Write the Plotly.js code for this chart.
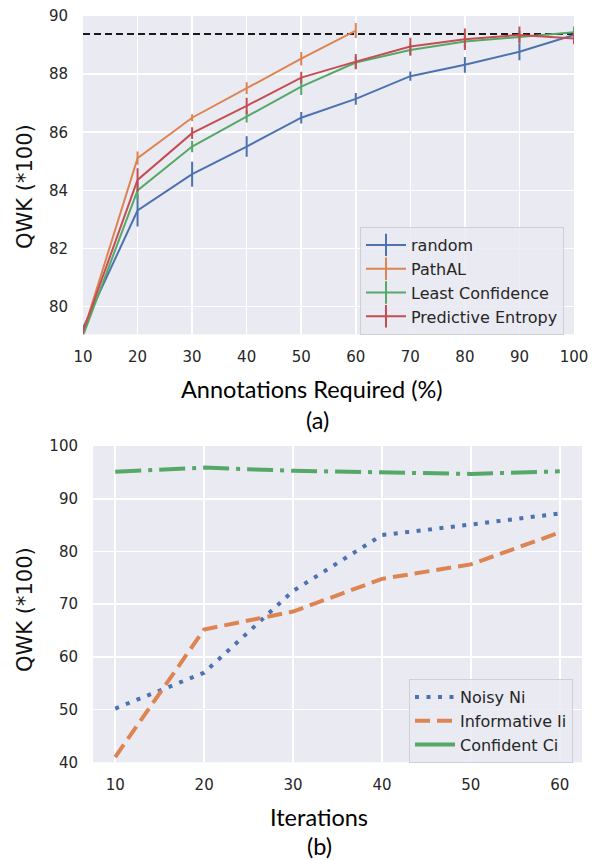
<!DOCTYPE html>
<html><head><meta charset="utf-8">
<script src="https://cdn.plot.ly/plotly-3.0.1.min.js"></script>
<style>html,body{margin:0;padding:0;background:#fff}#chart{width:592px;height:860px}</style>
</head><body><div id="chart"></div>
<script>
// ---- panel (a) data ----
const annot = [10, 20, 30, 40, 50, 60, 70, 80, 90, 100];
const randomQWK = [79.26, 83.31, 84.56, 85.51, 86.50, 87.15, 87.93, 88.32, 88.77, 89.35];
const randomErr = [0.10, 0.55, 0.43, 0.35, 0.20, 0.20, 0.16, 0.27, 0.29, 0.10];
const annotPath = [10, 20, 30, 40, 50, 60];
const pathalQWK = [79.10, 85.11, 86.50, 87.52, 88.53, 89.50];
const pathalErr = [0.10, 0.23, 0.12, 0.20, 0.23, 0.26];
const lcQWK = [79.00, 84.00, 85.51, 86.54, 87.57, 88.40, 88.83, 89.12, 89.29, 89.44];
const lcErr = [0.10, 0.30, 0.20, 0.20, 0.29, 0.20, 0.20, 0.22, 0.20, 0.20];
const peQWK = [79.15, 84.36, 85.97, 86.91, 87.88, 88.43, 88.95, 89.20, 89.35, 89.23];
const peErr = [0.10, 0.40, 0.20, 0.28, 0.20, 0.26, 0.30, 0.37, 0.29, 0.20];
const fullX = [10, 100];
const fullQWK = [89.38, 89.38];
const namesA = ['random', 'PathAL', 'Least Confidence', 'Predictive Entropy'];

// ---- panel (b) data ----
const iters = [10, 20, 30, 40, 50, 60];
const noisyNi = [50.2, 57.0, 72.5, 83.1, 85.1, 87.2];
const informativeIi = [41.0, 65.2, 68.6, 74.8, 77.55, 83.6];
const confidentCi = [95.1, 95.9, 95.3, 94.95, 94.7, 95.2];
const namesB = ['Noisy Ni', 'Informative Ii', 'Confident Ci'];

const C = ['#4C72B0', '#DD8452', '#55A868', '#C44E52'];
const DV = '"DejaVu Sans", Verdana, "Bitstream Vera Sans", sans-serif';
const tickFont = {family: DV, size: 15, color: '#262626'};

function errTrace(x, y, e, col) {
  return {x: x, y: y, type: 'scatter', mode: 'lines', xaxis: 'x', yaxis: 'y',
    line: {color: col, width: 2}, showlegend: false, hoverinfo: 'skip',
    error_y: {type: 'data', array: e, visible: true, color: col, thickness: 2, width: 0}};
}
function legA(name, col, i) {
  return {x: [null], y: [null], type: 'scatter', mode: 'lines+markers', name: name,
    xaxis: 'x', yaxis: 'y', legend: 'legend',
    line: {color: col, width: 2},
    marker: {symbol: 'line-ns-open', size: 17, color: col, line: {color: col, width: 2}}};
}
function legB(name, col, dash, i) {
  return {x: [null], y: [null], type: 'scatter', mode: 'lines', name: name,
    xaxis: 'x2', yaxis: 'y2', legend: 'legend2',
    line: {color: col, width: 4, dash: dash}};
}

const data = [
  {x: fullX, y: fullQWK, type: 'scatter', mode: 'lines', xaxis: 'x', yaxis: 'y',
   line: {color: '#1a1a1a', width: 1.8, dash: '7px,4px'}, showlegend: false},
  errTrace(annot, randomQWK, randomErr, C[0]),
  errTrace(annotPath, pathalQWK, pathalErr, C[1]),
  errTrace(annot, lcQWK, lcErr, C[2]),
  errTrace(annot, peQWK, peErr, C[3]),
  legA(namesA[0], C[0], 0), legA(namesA[1], C[1], 1), legA(namesA[2], C[2], 2), legA(namesA[3], C[3], 3),
  {x: iters, y: noisyNi, type: 'scatter', mode: 'lines', xaxis: 'x2', yaxis: 'y2',
   line: {color: C[0], width: 4, dash: '4px,7.5px'}, showlegend: false},
  {x: iters, y: informativeIi, type: 'scatter', mode: 'lines', xaxis: 'x2', yaxis: 'y2',
   line: {color: C[1], width: 4, dash: '15px,7px'}, showlegend: false},
  {x: iters, y: confidentCi, type: 'scatter', mode: 'lines', xaxis: 'x2', yaxis: 'y2',
   line: {color: C[2], width: 4, dash: '26px,7px,4px,7px'}, showlegend: false},
  legB(namesB[0], C[0], '4px,7.5px', 0), legB(namesB[1], C[1], '15px,7px', 1), legB(namesB[2], C[2], 'solid', 2)
];

const axBase = {showline: false, zeroline: false, gridcolor: '#ffffff', gridwidth: 1.6,
  tickfont: tickFont, ticks: '', ticklabelstandoff: 8};

function ann(text, x, y, font, angle) {
  const a = {text: text, x: x/592, y: 1 - y/860, xref: 'paper', yref: 'paper', showarrow: false,
    xanchor: 'center', yanchor: 'middle', font: font};
  if (angle !== undefined) a.textangle = angle;
  return a;
}
const yTitleFont = {family: DV, size: 21, color: '#111'};
const capFont = {family: 'Lato', size: 23.5, color: '#000'};
const legFont = {family: DV, size: 16, color: '#262626'};

const layout = {
  width: 592, height: 860, margin: {l: 0, r: 0, t: 0, b: 0},
  paper_bgcolor: '#ffffff', plot_bgcolor: '#EAEAF2', showlegend: true,
  xaxis: Object.assign({}, axBase, {domain: [83/592, 574/592], range: [10, 100], tickvals: annot, anchor: 'y', ticklabelstandoff: 12}),
  yaxis: Object.assign({}, axBase, {domain: [1 - 334.3/860, 1 - 16/860], range: [79.05, 90], tickvals: [80, 82, 84, 86, 88, 90], anchor: 'x', ticklabelstandoff: 14}),
  xaxis2: Object.assign({}, axBase, {domain: [93/592, 582/592], range: [7.5, 62.5], tickvals: iters, anchor: 'y2', ticklabelstandoff: 12}),
  yaxis2: Object.assign({}, axBase, {domain: [1 - 762.3/860, 1 - 446/860], range: [40, 100], tickvals: [40, 50, 60, 70, 80, 90, 100], anchor: 'x2', ticklabelstandoff: 14}),
  legend: {x: 360/592, y: 1 - 227/860, xanchor: 'left', yanchor: 'top', bgcolor: 'rgba(234,234,242,0.85)',
    bordercolor: '#cfcfd6', borderwidth: 1, font: legFont, itemwidth: 40},
  legend2: {x: 409/592, y: 1 - 679/860, xanchor: 'left', yanchor: 'top', bgcolor: 'rgba(234,234,242,0.85)',
    bordercolor: '#cfcfd6', borderwidth: 1, font: legFont, itemwidth: 40},
  annotations: [
    ann('QWK (*100)', 25, 187, yTitleFont, -90),
    ann('Annotations Required (%)', 311.5, 389, capFont),
    ann('(a)', 317, 420, capFont),
    ann('QWK (*100)', 25, 610, yTitleFont, -90),
    ann('Iterations', 319, 817, capFont),
    ann('(b)', 319, 845.5, capFont)
  ]
};
Plotly.newPlot('chart', data, layout, {displayModeBar: false, staticPlot: true});
</script></body></html>
